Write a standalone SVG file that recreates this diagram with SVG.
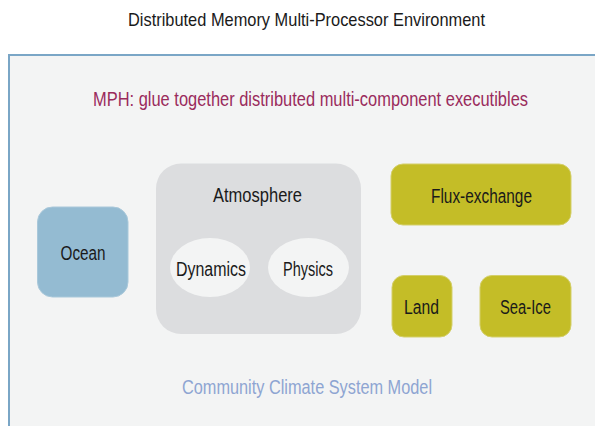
<svg xmlns="http://www.w3.org/2000/svg" width="595" height="426" viewBox="0 0 595 426">
<style>
text{font-family:"Liberation Sans",Arial,sans-serif;text-anchor:middle;}
.lbl{font-size:20px;fill:#1a1a1a;}
.olive{fill:#c4bd27;stroke:#d4cf6a;stroke-width:1;}
</style>
<rect width="595" height="426" fill="#ffffff"/>
<text x="306.5" y="25.5" font-size="18.5" fill="#1a1a1a" textLength="357" lengthAdjust="spacingAndGlyphs">Distributed Memory Multi-Processor Environment</text>
<g id="environment">
<rect x="9" y="55" width="586" height="371" fill="#f3f4f4"/>
<path d="M9 426 V55 H595" fill="none" stroke="#7aa6c6" stroke-width="2"/>
</g>
<text x="310.5" y="105.5" font-size="20" fill="#9a2b5c" textLength="435" lengthAdjust="spacingAndGlyphs">MPH: glue together distributed multi-component executibles</text>
<text x="307" y="393.5" font-size="20" fill="#8ea5d2" textLength="250" lengthAdjust="spacingAndGlyphs">Community Climate System Model</text>
<g id="connectors"></g>
<g id="ocean">
<rect x="37.5" y="207" width="90.5" height="90" rx="15" fill="#94bbd2" stroke="#a9c8da" stroke-width="1"/>
<text class="lbl" x="83" y="260" textLength="45" lengthAdjust="spacingAndGlyphs">Ocean</text>
</g>
<g id="atmosphere">
<rect x="156" y="163.5" width="205" height="170.5" rx="25" fill="#dcdddf"/>
<text class="lbl" x="257.5" y="202" textLength="89" lengthAdjust="spacingAndGlyphs">Atmosphere</text>
</g>
<g id="dynamics">
<ellipse cx="210" cy="267.5" rx="40" ry="29.5" fill="#f3f4f4"/>
<text class="lbl" x="211" y="275.5" textLength="70" lengthAdjust="spacingAndGlyphs">Dynamics</text>
</g>
<g id="physics">
<ellipse cx="308.5" cy="267.5" rx="40.5" ry="29.5" fill="#f3f4f4"/>
<text class="lbl" x="308" y="275.5" textLength="50" lengthAdjust="spacingAndGlyphs">Physics</text>
</g>
<g id="flux-exchange">
<rect class="olive" x="391" y="164" width="180" height="61" rx="12"/>
<text class="lbl" x="481.5" y="202.5" textLength="101" lengthAdjust="spacingAndGlyphs">Flux-exchange</text>
</g>
<g id="land">
<rect class="olive" x="392" y="275.5" width="60" height="61.5" rx="12"/>
<text class="lbl" x="421.5" y="313.5" textLength="35" lengthAdjust="spacingAndGlyphs">Land</text>
</g>
<g id="sea-ice">
<rect class="olive" x="480" y="275.5" width="91" height="61.5" rx="12"/>
<text class="lbl" x="525.5" y="313.5" textLength="51" lengthAdjust="spacingAndGlyphs">Sea-Ice</text>
</g>
</svg>
